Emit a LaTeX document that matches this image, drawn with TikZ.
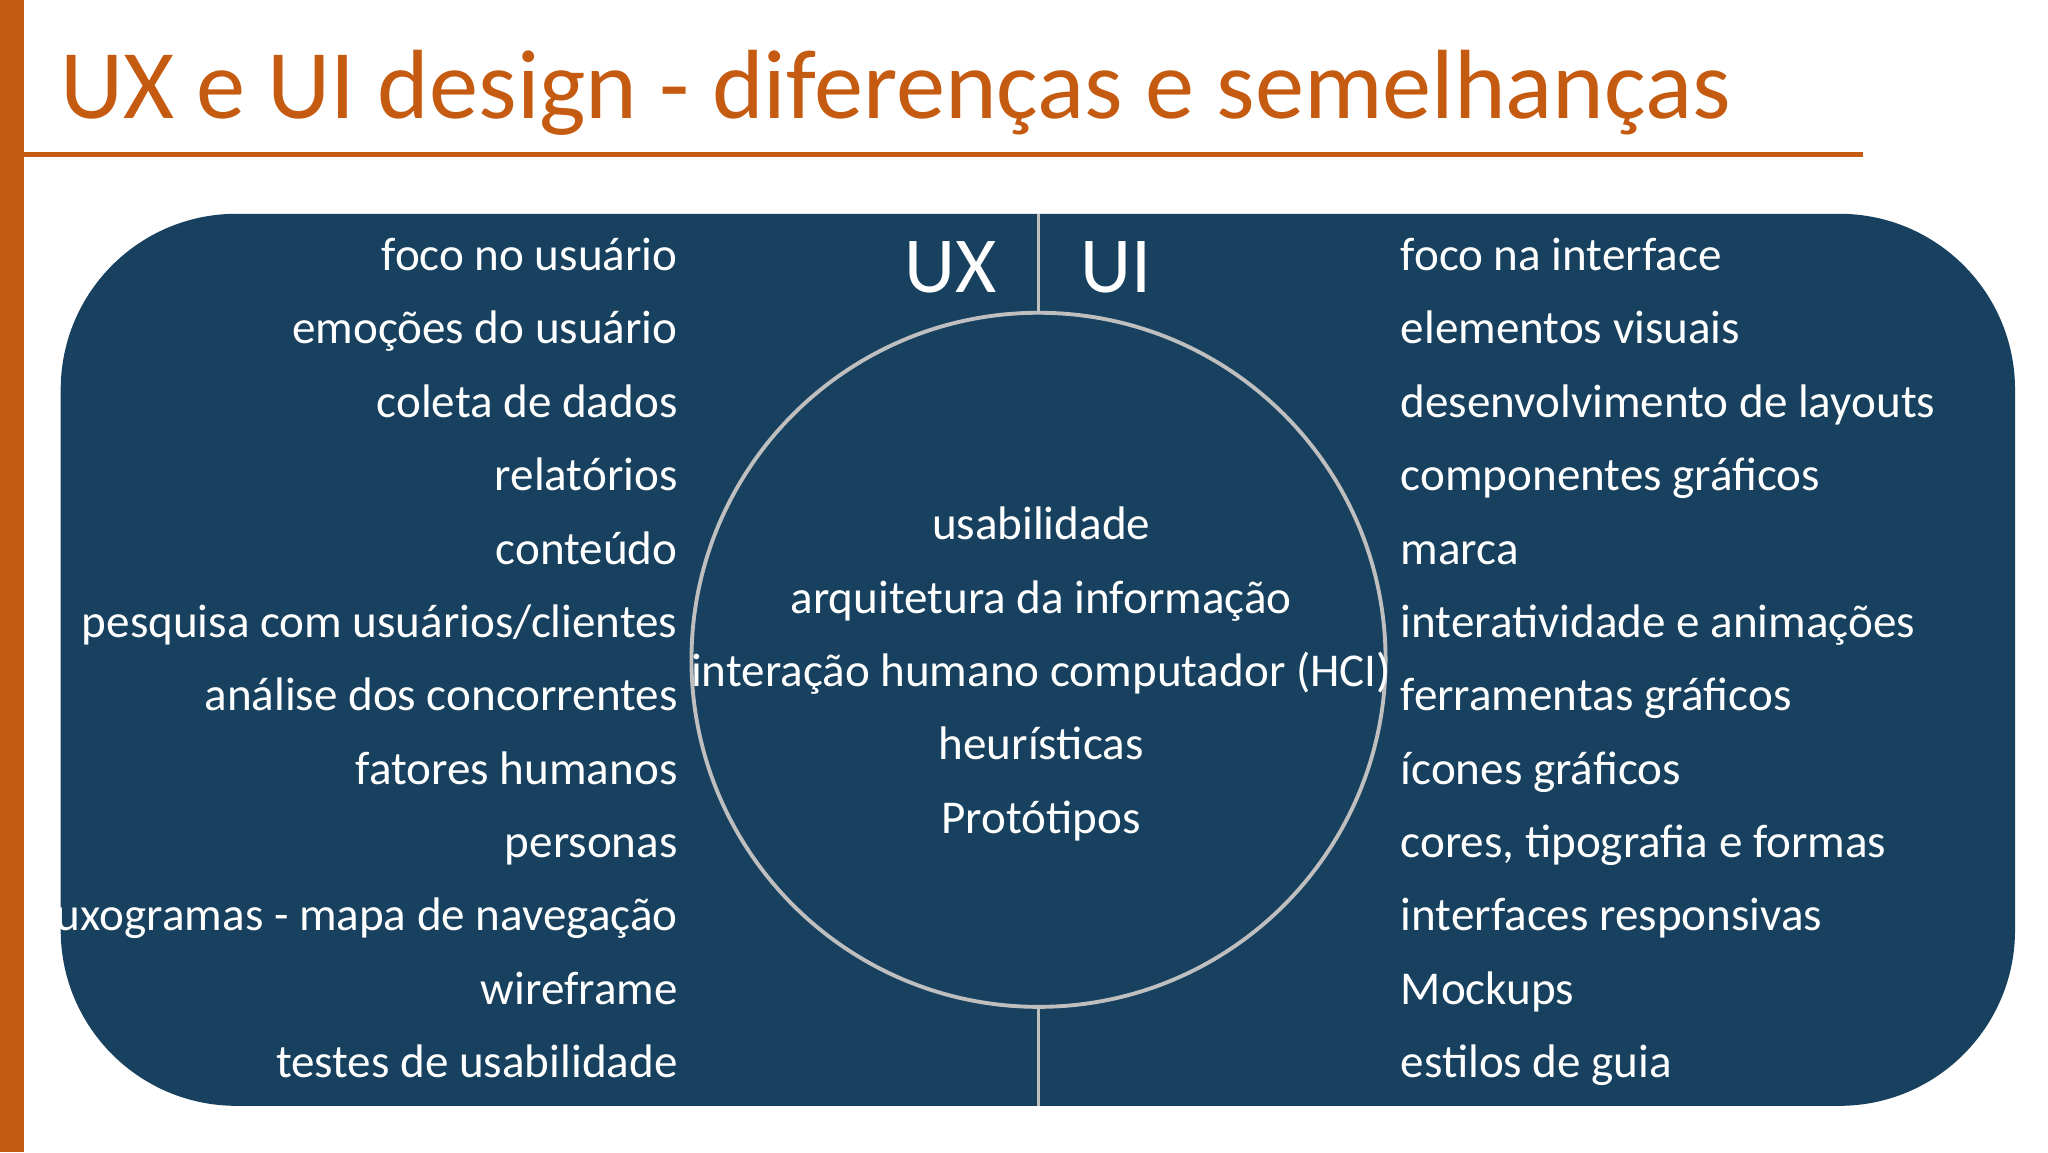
\documentclass[tikz,border=0pt]{standalone}
\usepackage{fontspec}
\setmainfont{Carlito}
\definecolor{orng}{HTML}{C55A11}
\definecolor{navy}{HTML}{17415E}
\definecolor{gry}{HTML}{BFBFBF}
\begin{document}
\begin{tikzpicture}[x=0.0132cm,y=-0.0132cm,
  item/.style={text=white,font=\fontsize{13.4pt}{16pt}\selectfont,inner sep=0pt},
  litem/.style={item,anchor=base east},
  ritem/.style={item,anchor=base west},
  citem/.style={item,anchor=base}]
\useasboundingbox (0,0) rectangle (1552,873);
\fill[orng] (0,0) rectangle (18,873);
\node[anchor=base west,inner sep=0pt,text=orng,font=\fontsize{28pt}{32pt}\selectfont] (title) at (45,90) {UX e UI design - diferenças e semelhanças};
\draw[orng,line width=1.5pt] (18,117) coordinate (la) -- (1412,117) coordinate (lb);
\fill[navy,rounded corners=50pt] (46,162) rectangle (1527,838);
\coordinate (top) at (787,162); \coordinate (bot) at (787,838);
\draw[gry,line width=1.1pt] (top) -- (bot);
\node[circle,draw=gry,fill=navy,line width=1.1pt,minimum size={526*0.0132cm},inner sep=0pt] (c) at (787,500) {};
\node[citem,font=\fontsize{22.6pt}{26pt}\selectfont] (ux) at (720,222) {UX};
\node[citem,font=\fontsize{22.6pt}{26pt}\selectfont] (ui) at (846,222) {UI};
\foreach \t [count=\i] in {foco no usuário,emoções do usuário,coleta de dados,relatórios,conteúdo,pesquisa com usuários/clientes,análise dos concorrentes,fatores humanos,personas,fluxogramas - mapa de navegação,wireframe,testes de usabilidade}
  \node[litem] (l\i) at (514,{205+(\i-1)*55.6}) {\t};
\foreach \t [count=\i] in {foco na interface,elementos visuais,desenvolvimento de layouts,componentes gráficos,marca,interatividade e animações,ferramentas gráficos,ícones gráficos,{cores, tipografia e formas},interfaces responsivas,Mockups,estilos de guia}
  \node[ritem] (r\i) at (1061,{205+(\i-1)*55.6}) {\t};
\foreach \t [count=\i] in {usabilidade,arquitetura da informação,interação humano computador (HCI),heurísticas,Protótipos}
  \node[citem] (m\i) at (789,{409+(\i-1)*55.6}) {\t};
\end{tikzpicture}
\end{document}
